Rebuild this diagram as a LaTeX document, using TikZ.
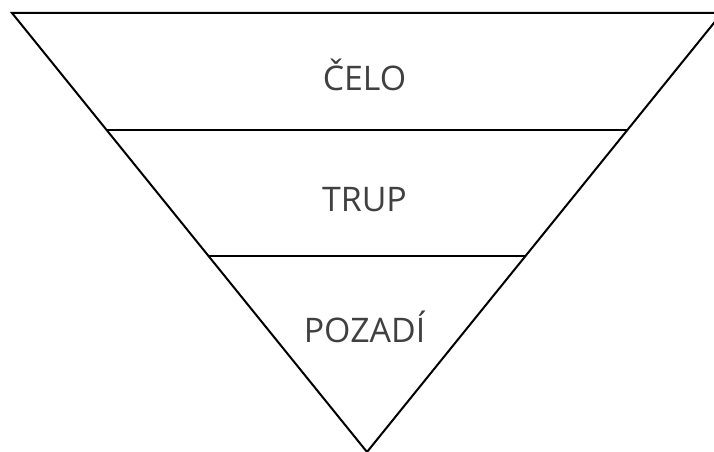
\documentclass[tikz,border=0pt]{standalone}
\usepackage{fontspec}
\setmainfont{Open Sans}
\definecolor{txt}{HTML}{404040}
\begin{document}
\begin{tikzpicture}[x=1bp,y=1bp,
  edge/.style={line width=2bp,line join=miter},
  label/.style={text=txt,font=\fontsize{34}{37}\selectfont,inner sep=0}]
\useasboundingbox (0,0) rectangle (714,452);
\clip (0,0) rectangle (714,452);
\coordinate (tl) at (12,439);
\coordinate (tr) at (722,439);
\coordinate (ap) at (367,0);
\draw[edge] (tl) -- (tr) -- (ap) -- cycle;
\coordinate (l1) at (106.7,322);
\coordinate (r1) at (627.3,322);
\coordinate (l2) at (208.6,196);
\coordinate (r2) at (525.4,196);
\draw[edge] (l1) -- (r1);
\draw[edge] (l2) -- (r2);
\node[label] (celo) at (364.5,377) {ČELO};
\node[label] (trup) at (364.5,252) {TRUP};
\node[label] (pozadi) at (364.5,125) {POZADÍ};
\end{tikzpicture}
\end{document}
